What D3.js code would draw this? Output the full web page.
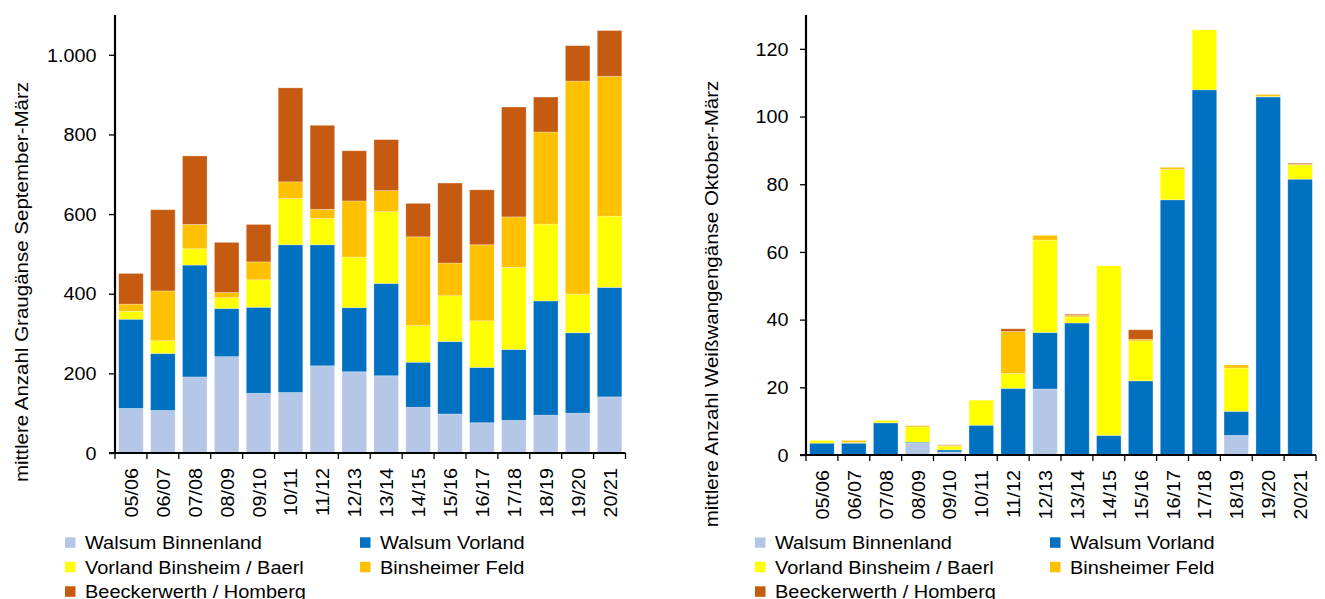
<!DOCTYPE html>
<html><head><meta charset="utf-8">
<script src="https://cdn.jsdelivr.net/npm/d3@7"></script>
<style>html,body{margin:0;padding:0;background:#fff}svg{display:block}</style>
</head><body>
<svg id="c" width="1325" height="599"></svg>
<script>
const seasons = ["05/06","06/07","07/08","08/09","09/10","10/11","11/12","12/13","13/14","14/15","15/16","16/17","17/18","18/19","19/20","20/21"];
const seriesNames = ["Walsum Binnenland","Walsum Vorland","Vorland Binsheim / Baerl","Binsheimer Feld","Beeckerwerth / Homberg"];
const seriesColors = ["#B4C7E7","#0070C0","#FFFF00","#FFC000","#C55A11"];

// Graugänse (left)
const greyWalsumBinnenland = [112,107,191,242,150,152,219,204,194,115,98,76,82,95,100,141];
const greyWalsumVorland    = [224,143,281,121,216,371,304,161,232,113,182,139,178,287,202,275];
const greyVorlandBinsheim  = [20,32,41,27,69,116,66,127,180,92,115,117,206,193,97,179];
const greyBinsheimerFeld   = [18,125,61,13,45,42,23,141,53,223,82,191,127,231,535,351];
const greyBeeckerwerth     = [77,204,172,126,94,236,211,126,128,84,201,138,276,88,89,115];
const greyTicks = [0,200,400,600,800,1000];

// Weißwangengänse (right)
const barnWalsumBinnenland = [0,0,0,3.5,0.9,0,0,19.5,0,0,0,0,0,5.8,0,0];
const barnWalsumVorland    = [3.5,3.5,9.5,0.3,0.6,8.8,19.7,16.7,39,5.8,21.9,75.4,107.9,7.1,105.8,81.5];
const barnVorlandBinsheim  = [0.8,0.2,0.7,4.5,1.1,7.4,4.4,27.3,1.8,50.1,11.8,9,17.7,12.8,0.2,4.2];
const barnBinsheimerFeld   = [0,0.6,0,0.4,0.3,0,12.4,1.4,0.5,0,0.5,0.6,0,0.9,0.5,0.2];
const barnBeeckerwerth     = [0,0,0,0,0.1,0,0.8,0,0.3,0,2.8,0,0,0,0,0.3];
const barnTicks = [0,20,40,60,80,100,120];

const FONT = "'Liberation Sans', Arial, sans-serif";
const SX = 1.13;
const de = d3.formatLocale({decimal:",", thousands:".", grouping:[3], currency:["","€"]});
const fmt = de.format(",");

const svg = d3.select("#c");

function drawChart(cfg){
  const g = svg.append("g");
  const rows = seasons.map((s,i)=>{
    const o = {season:s};
    cfg.series.forEach((arr,k)=>{ o[seriesNames[k]] = arr[i]; });
    return o;
  });
  const stack = d3.stack().keys(seriesNames)(rows);
  const x = d3.scaleBand().domain(seasons).range([cfg.x0, cfg.x1]).paddingInner(0.23).paddingOuter(0.115);
  const y = d3.scaleLinear().domain([0, cfg.ymax]).range([cfg.y0, 15]);

  // bars
  stack.forEach((layer,k)=>{
    g.append("g").selectAll("rect").data(layer).join("rect")
      .attr("x", d=>x(d.data.season))
      .attr("width", x.bandwidth())
      .attr("y", d=>y(d[1]))
      .attr("height", d=>Math.max(0, y(d[0]) - y(d[1])))
      .attr("fill", seriesColors[k])
      .attr("stroke", "rgba(255,255,255,0.35)")
      .attr("stroke-width", 0.8);
  });

  // y axis
  const ya = g.append("g").attr("transform", `translate(${cfg.x0},0)`)
    .call(d3.axisLeft(y).tickValues(cfg.ticks).tickSize(6).tickFormat(cfg.fmt));
  ya.select(".domain").remove();
  ya.selectAll(".tick line").attr("stroke","#000").attr("stroke-width",1.3);
  ya.selectAll(".tick text")
    .attr("x", null).attr("dy", null)
    .attr("font-family", FONT).attr("font-size", 17.5).attr("fill","#000")
    .attr("text-anchor","end")
    .attr("transform", `translate(${-cfg.labelGap},6.2) scale(${SX},1)`);
  g.append("line").attr("x1",cfg.x0).attr("x2",cfg.x0).attr("y1",15).attr("y2",cfg.y0+1)
    .attr("stroke","#000").attr("stroke-width",2.2);

  // x axis
  const step = x.step();
  const off = (step - x.bandwidth())/2;
  g.append("line").attr("x1",cfg.x0-6).attr("x2",cfg.x1).attr("y1",cfg.y0).attr("y2",cfg.y0)
    .attr("stroke","#000").attr("stroke-width",2.2);
  const bounds = seasons.map(s=>x(s)-off).concat([x(seasons[seasons.length-1]) + x.bandwidth() + off]);
  g.append("g").selectAll("line").data(bounds).join("line")
    .attr("x1",d=>d).attr("x2",d=>d).attr("y1",cfg.y0).attr("y2",cfg.y0+6)
    .attr("stroke","#000").attr("stroke-width",1.3);
  g.append("g").selectAll("text").data(seasons).join("text")
    .attr("transform", d=>`translate(${x(d)+x.bandwidth()/2+7},${cfg.y0+15}) rotate(-90) scale(${SX},1)`)
    .attr("text-anchor","end")
    .attr("font-family", FONT).attr("font-size", 17.5).attr("fill","#000")
    .text(d=>d);

  // axis title
  g.append("text")
    .attr("transform", `translate(${cfg.titleX},${cfg.titleY}) rotate(-90) scale(1.14,1)`)
    .attr("text-anchor","middle")
    .attr("font-family", FONT).attr("font-size", 18).attr("fill","#000")
    .text(cfg.title);

  // legend
  const lg = g.append("g");
  const pos = [[0,0],[295,0],[0,1],[295,1],[0,2]];
  seriesNames.forEach((n,k)=>{
    const px = cfg.legX + pos[k][0], py = 542.5 + pos[k][1]*24.5;
    lg.append("rect").attr("x",px).attr("y",py-5.2).attr("width",10.5).attr("height",10.5).attr("fill",seriesColors[k]);
    lg.append("text").attr("transform",`translate(${px+20},${py+6.5}) scale(1.08,1)`)
      .attr("font-family", FONT).attr("font-size", 18.5).attr("fill","#000").text(n);
  });
}

drawChart({
  series:[greyWalsumBinnenland,greyWalsumVorland,greyVorlandBinsheim,greyBinsheimerFeld,greyBeeckerwerth],
  x0:115, x1:625.5, y0:453, ymax:1100, ticks:greyTicks, fmt:fmt, labelGap:18.5,
  title:"mittlere Anzahl Graugänse September-März", titleX:28, titleY:282, legX:65
});
drawChart({
  series:[barnWalsumBinnenland,barnWalsumVorland,barnVorlandBinsheim,barnBinsheimerFeld,barnBeeckerwerth],
  x0:806, x1:1316, y0:455, ymax:130, ticks:barnTicks, fmt:d3.format("d"), labelGap:17.5,
  title:"mittlere Anzahl Weißwangengänse Oktober-März", titleX:718, titleY:304, legX:755
});
</script>
</body></html>
